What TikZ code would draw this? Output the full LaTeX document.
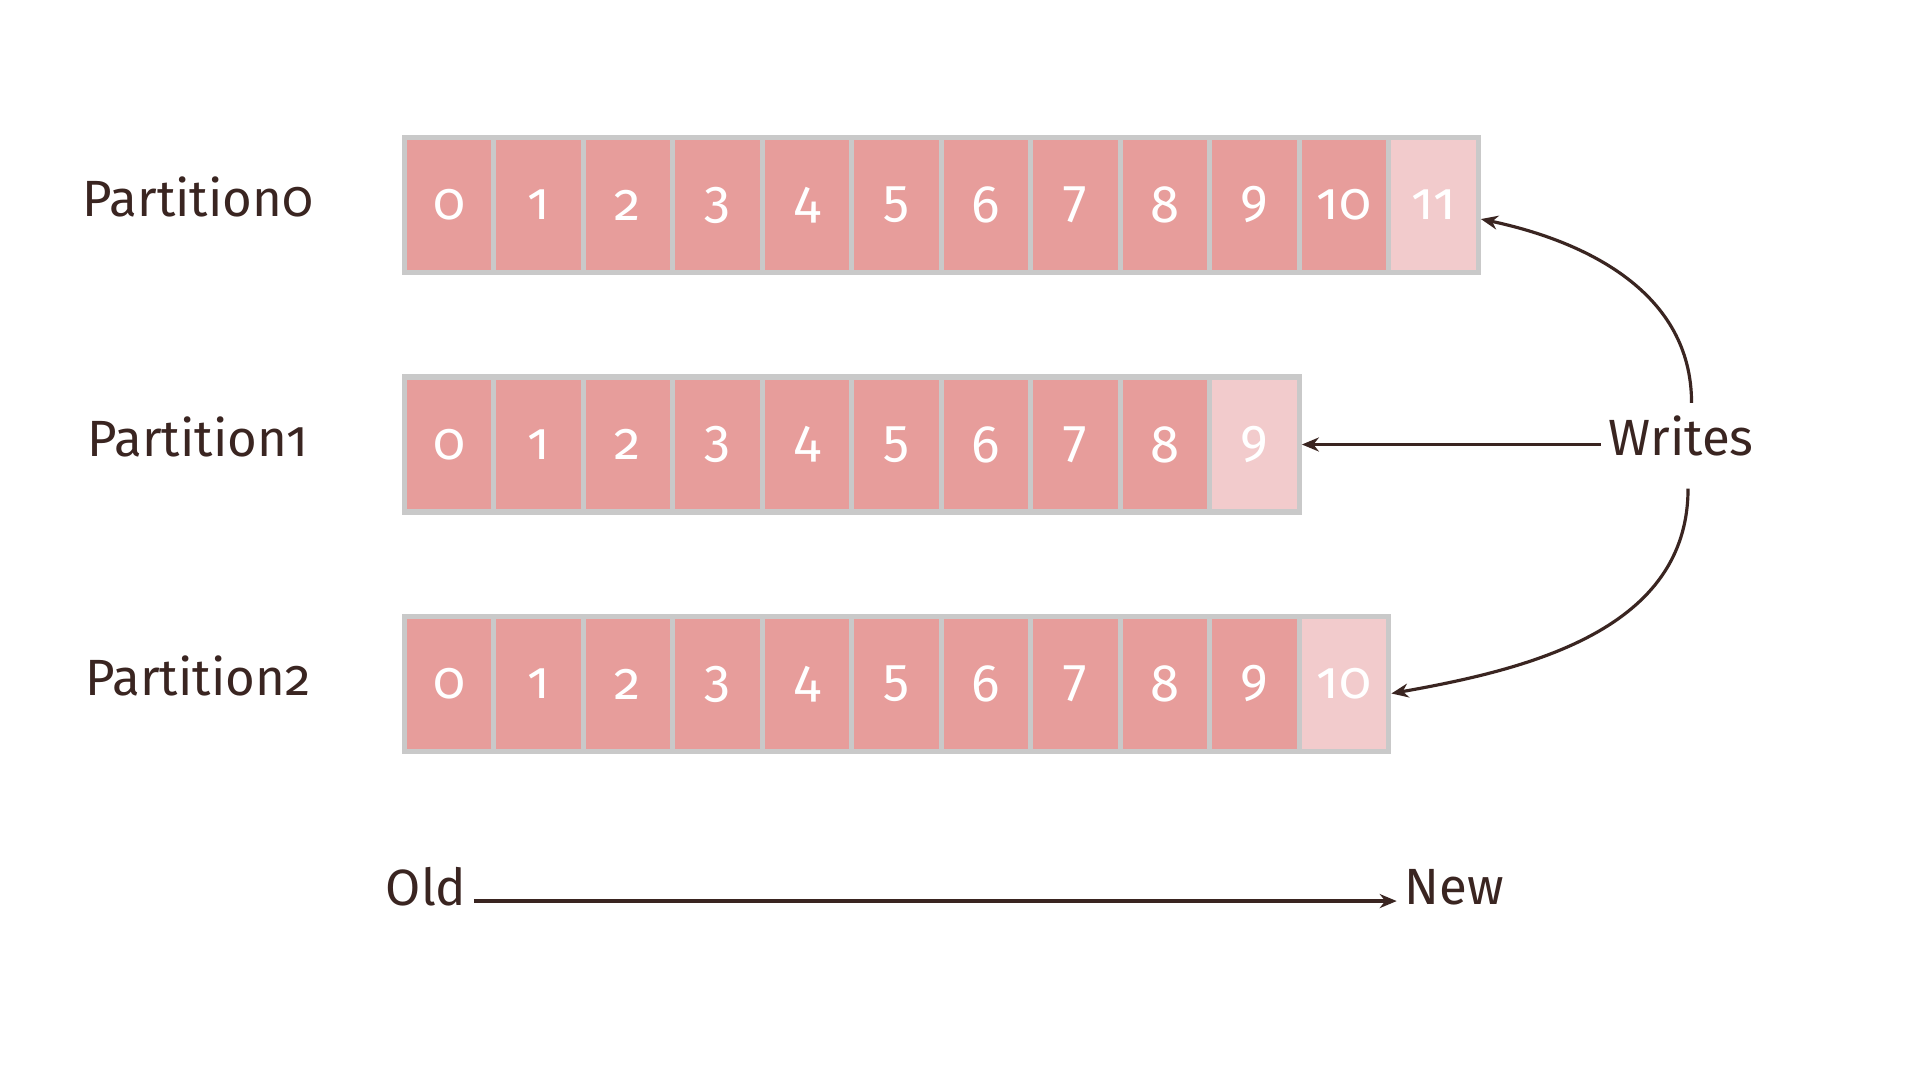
\documentclass[tikz,border=0pt]{standalone}
\usepackage{fontspec}
\setmainfont[Numbers=OldStyle]{Fira Sans}
\usetikzlibrary{positioning,arrows.meta}
\definecolor{cellred}{HTML}{E79D9B}
\definecolor{cellnew}{HTML}{F2CBCC}
\definecolor{cellgray}{HTML}{C9C9C9}
\definecolor{ink}{HTML}{3A2521}
\tikzset{
  cell/.style={rectangle, draw=cellgray, line width=1.5pt, fill=cellred,
               minimum width=8.95mm, minimum height=13.5mm, inner sep=0pt,
               text=white, font=\fontsize{15}{15}\selectfont},
  newcell/.style={cell, fill=cellnew},
  plab/.style={inner sep=2pt, text=ink, font=\fontsize{14.5}{14.5}\selectfont},
  wr/.style={line width=0.9pt, draw=ink, -{Stealth[length=1.7mm,width=1.4mm]}},
}

\begin{document}
\begin{tikzpicture}
  \useasboundingbox[fill=white] (0,0) rectangle (19.2,-10.8);
  \foreach \last [count=\r from 0] in {11,9,10} {
    \node[plab] (part\r) at (1.98,{-1.97-2.395*\r}) {Partition\r};
    \foreach \i in {0,...,\last} {
      \edef\kind{\ifnum\i=\last newcell\else cell\fi}
      \node[\kind] (p\r-\i) at ({4.49+0.895*\i},{-2.05-2.395*\r}) {\i};
    }
  }
  \node[plab] (writes) at (16.81,-4.36) {Writes};
  \draw[wr] (writes.west |- p1-9.east) -- (p1-9.east);
  \draw[wr] ([xshift=3pt,yshift=1.5pt]writes.north) to[out=90,in=-12] ([yshift=-4pt]p0-11.east);
  \draw[wr] ([xshift=2pt,yshift=-7pt]writes.south) to[out=-90,in=10] ([yshift=-2.7pt]p2-10.east);
  \node[plab] (old) at (4.26,-8.87) {Old};
  \node[plab] (new) at (14.54,-8.87) {New};
  \draw[wr] ([yshift=-4pt]old.east) -- ([yshift=-4pt]new.west);
\end{tikzpicture}
\end{document}
